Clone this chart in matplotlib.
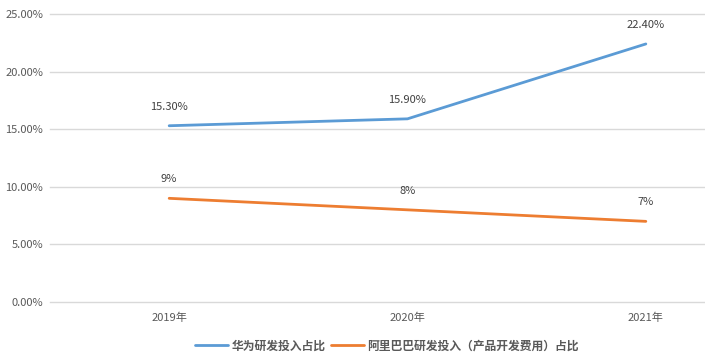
import matplotlib
matplotlib.use("Agg")
import matplotlib.pyplot as plt
from matplotlib.ticker import FuncFormatter

plt.rcParams['font.family'] = ['Noto Sans CJK SC', 'DejaVu Sans']

categories = ['2019年', '2020年', '2021年']
huawei = [15.3, 15.9, 22.4]
alibaba = [9, 8, 7]
huawei_labels = ['15.30%', '15.90%', '22.40%']
alibaba_labels = ['9%', '8%', '7%']
series_names = ['华为研发投入占比', '阿里巴巴研发投入（产品开发费用）占比']

W, H = 705, 355
fig = plt.figure(figsize=(W/100, H/100), dpi=100)
left_px, right_px, top_px, bot_px = 50, 765, 14, 302
ax = fig.add_axes([left_px/W, 1-bot_px/H, (right_px-left_px)/W, (bot_px-top_px)/H])

x = list(range(len(categories)))
blue = '#5B9BD5'
orange = '#ED7D31'
text_c = '#595959'

l1, = ax.plot(x, huawei, color=blue, lw=2.0, solid_capstyle='round', zorder=3)
l2, = ax.plot(x, alibaba, color=orange, lw=2.0, solid_capstyle='round', zorder=3)

for xi, v, t in zip(x, huawei, huawei_labels):
    ax.annotate(t, (xi, v), xytext=(0, 10), textcoords='offset points',
                ha='center', va='bottom', fontsize=8, color='#404040')
for xi, v, t in zip(x, alibaba, alibaba_labels):
    ax.annotate(t, (xi, v), xytext=(0, 10), textcoords='offset points',
                ha='center', va='bottom', fontsize=8, color='#404040')

ax.set_xlim(-0.5, 2.5)
ax.set_ylim(0, 25)
ax.set_yticks([0, 5, 10, 15, 20, 25])
ax.yaxis.set_major_formatter(FuncFormatter(lambda v, p: f'{v:.2f}%'))
ax.set_xticks(x)
ax.set_xticklabels(categories)
ax.tick_params(axis='both', length=0, labelsize=8, labelcolor=text_c)
ax.tick_params(axis='x', pad=8)
ax.tick_params(axis='y', pad=5)
ax.grid(axis='y', color='#D9D9D9', lw=1.0)
for gl in ax.get_ygridlines():
    gl.set_clip_on(False)
ax.set_axisbelow(True)
for s in ax.spines.values():
    s.set_visible(False)

leg = fig.legend([l1, l2], series_names, loc='center', bbox_to_anchor=(387/W, 1-346/H),
                 ncol=2, frameon=False, handlelength=2.8, handletextpad=0.3,
                 columnspacing=0.4, prop={'size': 8.5, 'weight': 'bold'})
for t in leg.get_texts():
    t.set_color(text_c)

fig.savefig('out.png', dpi=100)
